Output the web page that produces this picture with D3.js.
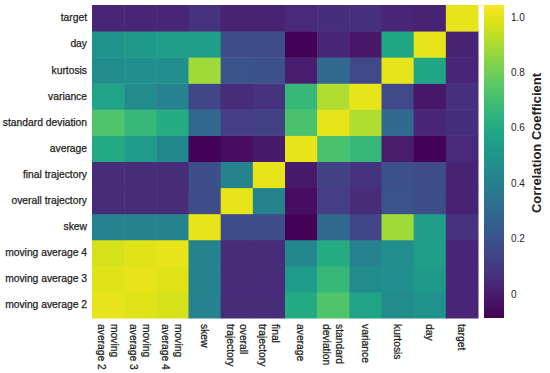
<!DOCTYPE html>
<html>
<head>
<meta charset="utf-8">
<script src="https://cdn.jsdelivr.net/npm/d3@7"></script>
<style>
	body { margin: 0; background: #fff; }
	svg text { font-family: "Liberation Sans", Arial, sans-serif; fill: #1e1e1e; }
</style>
</head>
<body>
<div id="chart"></div>
<script>
// features, in column order (rows are drawn reversed)
var features = ["moving average 2", "moving average 3", "moving average 4", "skew",
	"overall trajectory", "final trajectory", "average", "standard deviation",
	"variance", "kurtosis", "day", "target"];

// column labels, split on two lines
var colLabels = [["moving", "average 2"], ["moving", "average 3"], ["moving", "average 4"], ["skew"],
	["overall", "trajectory"], ["final", "trajectory"], ["average"], ["standard", "deviation"],
	["variance"], ["kurtosis"], ["day"], ["target"]];

// correlation of each feature with the features above
var movingAverage2    = [1.00, 0.99, 0.97, 0.41, 0.05, 0.05, 0.60, 0.73, 0.57, 0.46, 0.49, 0.03];
var movingAverage3    = [0.99, 1.00, 0.99, 0.42, 0.05, 0.05, 0.53, 0.67, 0.46, 0.47, 0.52, 0.03];
var movingAverage4    = [0.97, 0.99, 1.00, 0.42, 0.05, 0.05, 0.44, 0.61, 0.41, 0.47, 0.54, 0.03];
var skew              = [0.41, 0.42, 0.42, 1.00, 0.17, 0.18, -0.08, 0.29, 0.15, 0.88, 0.54, 0.08];
var overallTrajectory = [0.05, 0.05, 0.05, 0.17, 1.00, 0.42, -0.05, 0.12, 0.05, 0.20, 0.18, 0.02];
var finalTrajectory   = [0.05, 0.05, 0.05, 0.18, 0.42, 1.00, -0.01, 0.13, 0.08, 0.19, 0.17, 0.02];
var average           = [0.60, 0.53, 0.44, -0.08, -0.05, -0.01, 1.00, 0.72, 0.67, 0.00, -0.08, 0.04];
var standardDeviation = [0.73, 0.67, 0.61, 0.29, 0.12, 0.13, 0.72, 1.00, 0.91, 0.30, 0.03, 0.06];
var variance          = [0.57, 0.46, 0.41, 0.15, 0.05, 0.08, 0.67, 0.91, 1.00, 0.16, -0.02, 0.07];
var kurtosis          = [0.46, 0.47, 0.47, 0.88, 0.20, 0.19, 0.00, 0.30, 0.16, 1.00, 0.58, 0.03];
var day               = [0.49, 0.52, 0.54, 0.54, 0.18, 0.17, -0.08, 0.03, -0.02, 0.58, 1.00, 0.02];
var target            = [0.03, 0.03, 0.03, 0.08, 0.02, 0.02, 0.04, 0.06, 0.07, 0.03, 0.02, 1.00];

var matrix = [movingAverage2, movingAverage3, movingAverage4, skew, overallTrajectory,
	finalTrajectory, average, standardDeviation, variance, kurtosis, day, target];

// colour bar
var colorDomain = [-0.087, 1.043];
var colorTicks = [0, 0.2, 0.4, 0.6, 0.8, 1.0];

// set the dimensions and margins of the graph
var width = 550, height = 373;
var margin = {top: 5, right: 72, bottom: 55, left: 92};
var plotW = width - margin.left - margin.right;
var plotH = height - margin.top - margin.bottom;

var svg = d3.select("#chart").append("svg")
	.attr("width", width)
	.attr("height", height);

var g = svg.append("g")
	.attr("transform", "translate(" + margin.left + "," + margin.top + ")");

// scales
var x = d3.scaleBand().domain(features).range([0, plotW]);
var y = d3.scaleBand().domain(features.slice().reverse()).range([0, plotH]);
var color = d3.scaleSequential(d3.interpolateViridis).domain(colorDomain);

// cells
var cells = [];
matrix.forEach(function (row, i) {
	row.forEach(function (v, j) {
		cells.push({row: features[i], col: features[j], value: v});
	});
});

g.selectAll("rect.cell")
	.data(cells)
	.enter().append("rect")
	.attr("class", "cell")
	.attr("x", function (d) { return x(d.col); })
	.attr("y", function (d) { return y(d.row); })
	.attr("width", x.bandwidth() + 0.5)
	.attr("height", y.bandwidth() + 0.5)
	.attr("fill", function (d) { return color(d.value); });

// y axis labels
g.append("g")
	.attr("class", "axis")
	.call(d3.axisLeft(y).tickSize(0).tickPadding(5))
	.call(function (a) { a.select(".domain").remove(); })
	.selectAll("text")
	.attr("font-size", "10.3px")
	.style("stroke", "#1e1e1e")
	.style("stroke-width", "0.25px");

// x axis labels, rotated (first line on the right)
var xl = g.append("g")
	.attr("class", "x-labels")
	.selectAll("text")
	.data(features)
	.enter().append("text")
	.attr("font-size", "10.3px")
	.attr("text-anchor", "start")
	.style("stroke", "#1e1e1e")
	.style("stroke-width", "0.25px")
	.attr("transform", function (d, i) {
		var n = colLabels[i].length;
		var cx = x(d) + x.bandwidth() / 2 + (n - 1) * 6.5 - 3.7;
		return "translate(" + cx + "," + (plotH + 6) + ") rotate(90)";
	});

xl.selectAll("tspan")
	.data(function (d, i) { return colLabels[i]; })
	.enter().append("tspan")
	.attr("x", 0)
	.attr("dy", function (d, k) { return k === 0 ? 0 : 13; })
	.text(function (d) { return d; });

// colour bar
var barX = 484, barW = 20;
var cy = d3.scaleLinear().domain(colorDomain).range([margin.top + plotH, margin.top]);

var grad = svg.append("defs").append("linearGradient")
	.attr("id", "viridis")
	.attr("x1", "0").attr("y1", "1")
	.attr("x2", "0").attr("y2", "0");

d3.range(0, 1.0001, 0.05).forEach(function (t) {
	grad.append("stop")
		.attr("offset", (t * 100) + "%")
		.attr("stop-color", d3.interpolateViridis(t));
});

svg.append("rect")
	.attr("x", barX)
	.attr("y", margin.top)
	.attr("width", barW)
	.attr("height", plotH)
	.attr("fill", "url(#viridis)");

svg.append("g")
	.attr("transform", "translate(" + (barX + barW) + ",0)")
	.call(d3.axisRight(cy).tickValues(colorTicks).tickSize(0).tickPadding(7)
		.tickFormat(function (d) { return d === 0 ? "0" : d3.format(".1f")(d); }))
	.call(function (a) { a.select(".domain").remove(); })
	.selectAll("text")
	.attr("font-size", "10px");

svg.append("text")
	.attr("transform", "translate(541,143) rotate(-90)")
	.attr("text-anchor", "middle")
	.attr("font-size", "13px")
	.attr("font-weight", "bold")
	.text("Correlation Coefficient");
</script>
</body>
</html>
